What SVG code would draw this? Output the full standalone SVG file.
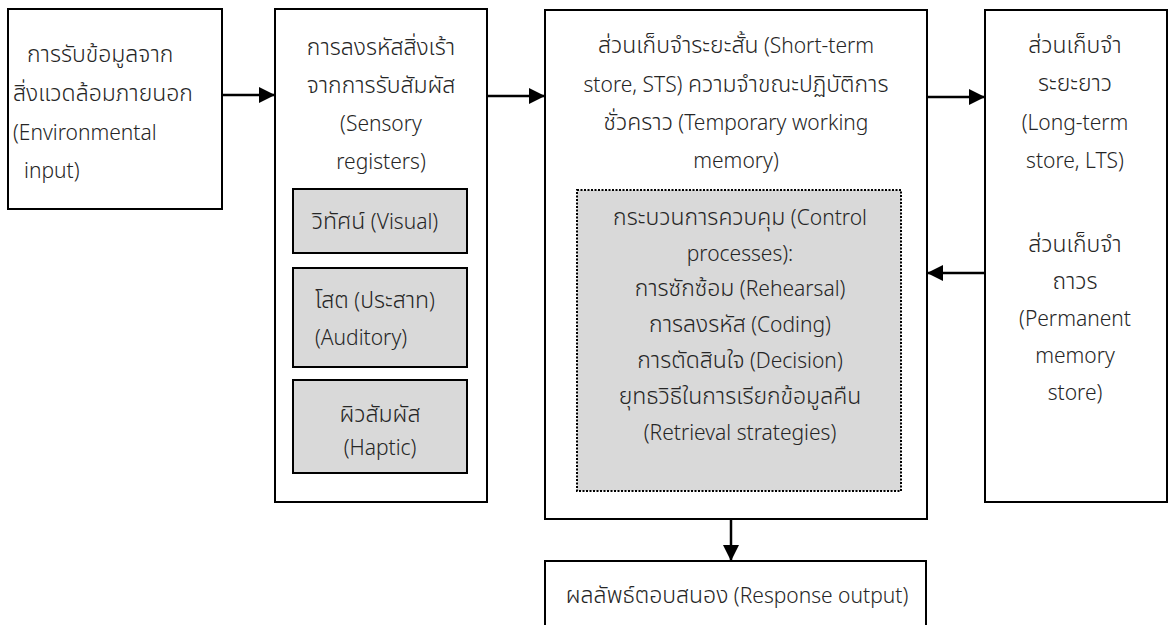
<svg xmlns="http://www.w3.org/2000/svg" width="1169" height="625" viewBox="0 0 1169 625">
<defs>
<style>
.box{fill:#ffffff;stroke:#000000;stroke-width:2}
.sub{fill:#d9d9d9;stroke:#000000;stroke-width:2}
.dot{fill:#d9d9d9;stroke:#000000;stroke-width:2;stroke-dasharray:2 1.5}
.t{font-family:"Noto Sans","Noto Sans Thai","Noto Sans Thai UI","Noto Sans Thai Looped",sans-serif;font-size:21px;font-weight:300;fill:#262626}
.th{font-size:23px}
.m{text-anchor:middle}
.conn{stroke:#000000;stroke-width:2.5;fill:none}
</style>
<marker id="ah" viewBox="0 0 16 16" refX="16" refY="8" markerWidth="16" markerHeight="16" markerUnits="userSpaceOnUse" orient="auto">
<path d="M0,0 L16,8 L0,16 Z" fill="#000000"/>
</marker>
</defs>
<rect width="1169" height="625" fill="#ffffff"/>

<g id="env-input">
<rect class="box" x="8" y="9" width="214" height="200"/>
<text class="t th" x="27" y="62">การรับข้อมูลจาก</text>
<text class="t th" x="13" y="101">สิ่งแวดล้อมภายนอก</text>
<text class="t" x="13" y="140">(Environmental</text>
<text class="t" x="24" y="178">input)</text>
</g>

<g id="sensory-registers">
<rect class="box" x="275" y="9" width="212" height="493"/>
<text class="t th m" x="381" y="55">การลงรหัสสิ่งเร้า</text>
<text class="t th m" x="381" y="93">จากการรับสัมผัส</text>
<text class="t m" x="381" y="131">(Sensory</text>
<text class="t m" x="381" y="169">registers)</text>
</g>

<g id="visual">
<rect class="sub" x="293" y="189" width="174" height="64"/>
<text class="t m" x="375" y="229"><tspan class="th">วิทัศน์</tspan> (Visual)</text>
</g>

<g id="auditory">
<rect class="sub" x="293" y="268" width="174" height="99"/>
<text class="t" x="315" y="308"><tspan class="th">โสต</tspan> (<tspan class="th">ประสาท</tspan>)</text>
<text class="t" x="315" y="345">(Auditory)</text>
</g>

<g id="haptic">
<rect class="sub" x="293" y="380" width="174" height="93"/>
<text class="t th m" x="380" y="422">ผิวสัมผัส</text>
<text class="t m" x="380" y="455">(Haptic)</text>
</g>

<g id="short-term-store">
<rect class="box" x="545" y="10" width="382" height="509"/>
<text class="t m" x="736" y="53"><tspan class="th">ส่วนเก็บจำระยะสั้น</tspan> (Short-term</text>
<text class="t m" x="736" y="92">store, STS) <tspan class="th">ความจำขณะปฏิบัติการ</tspan></text>
<text class="t m" x="736" y="130"><tspan class="th">ชั่วคราว</tspan> (Temporary working</text>
<text class="t m" x="736" y="168">memory)</text>
</g>

<g id="control-processes">
<rect class="dot" x="577" y="190" width="324" height="301"/>
<text class="t m" x="740" y="225"><tspan class="th">กระบวนการควบคุม</tspan> (Control</text>
<text class="t m" x="740" y="261">processes):</text>
<text class="t m" x="740" y="296"><tspan class="th">การซักซ้อม</tspan> (Rehearsal)</text>
<text class="t m" x="740" y="332"><tspan class="th">การลงรหัส</tspan> (Coding)</text>
<text class="t m" x="740" y="368"><tspan class="th">การตัดสินใจ</tspan> (Decision)</text>
<text class="t th m" x="740" y="404">ยุทธวิธีในการเรียกข้อมูลคืน</text>
<text class="t m" x="740" y="440">(Retrieval strategies)</text>
</g>

<g id="long-term-store">
<rect class="box" x="985" y="10" width="182" height="492"/>
<text class="t th m" x="1075" y="53">ส่วนเก็บจำ</text>
<text class="t th m" x="1075" y="91">ระยะยาว</text>
<text class="t m" x="1075" y="130">(Long-term</text>
<text class="t m" x="1075" y="168">store, LTS)</text>
<text class="t th m" x="1075" y="252">ส่วนเก็บจำ</text>
<text class="t th m" x="1075" y="289">ถาวร</text>
<text class="t m" x="1075" y="326">(Permanent</text>
<text class="t m" x="1075" y="363">memory</text>
<text class="t m" x="1075" y="400">store)</text>
</g>

<g id="response-output">
<rect class="box" x="545" y="561" width="381" height="90"/>
<text class="t m" x="737" y="603"><tspan class="th">ผลลัพธ์ตอบสนอง</tspan> (Response output)</text>
</g>

<g id="connectors">
<line class="conn" x1="222" y1="95" x2="275" y2="95" marker-end="url(#ah)"/>
<line class="conn" x1="487" y1="96" x2="545" y2="96" marker-end="url(#ah)"/>
<line class="conn" x1="927" y1="97" x2="985" y2="97" marker-end="url(#ah)"/>
<line class="conn" x1="985" y1="273" x2="927" y2="273" marker-end="url(#ah)"/>
<line class="conn" x1="731" y1="519" x2="731" y2="561" marker-end="url(#ah)"/>
</g>
</svg>
